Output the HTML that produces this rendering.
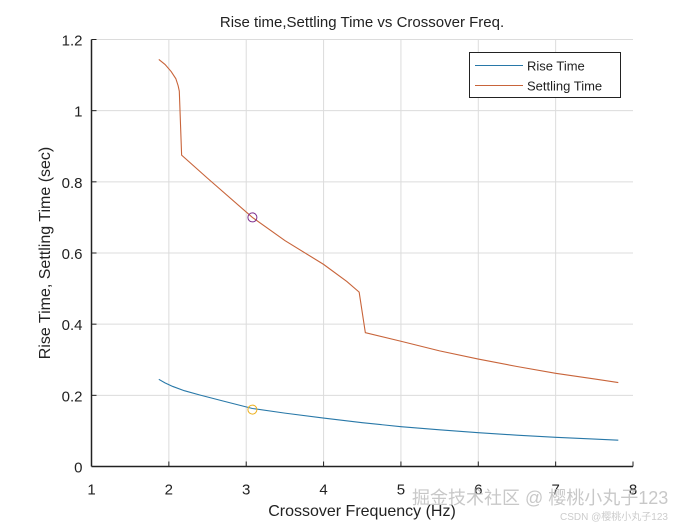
<!DOCTYPE html>
<html><head><meta charset="utf-8"><style>
html,body{margin:0;padding:0;background:#fff;}
svg{display:block;font-family:"Liberation Sans","Noto Sans CJK SC",sans-serif;}
</style></head><body>
<svg id="chart" width="700" height="525" viewBox="0 0 700 525">
<rect x="0" y="0" width="700" height="525" fill="#fff"/>
<g id="grid"></g>
<g id="series"></g>
<g id="axes"></g>
<text x="362" y="27" text-anchor="middle" font-size="15" fill="#222">Rise time,Settling Time vs Crossover Freq.</text>
<text x="362" y="516" text-anchor="middle" font-size="16" fill="#222">Crossover Frequency (Hz)</text>
<text transform="translate(50,253) rotate(-90)" text-anchor="middle" font-size="16" fill="#222">Rise Time, Settling Time (sec)</text>
<g>
<rect x="469.5" y="52.5" width="151" height="45" fill="#fff" stroke="#222" stroke-width="1"/>
<line x1="475" y1="65.5" x2="523" y2="65.5" stroke="#2878a8" stroke-width="1"/>
<text x="527" y="70.5" font-size="13" fill="#222">Rise Time</text>
<line x1="475" y1="85.5" x2="523" y2="85.5" stroke="#c8643a" stroke-width="1"/>
<text x="527" y="90.5" font-size="13" fill="#222">Settling Time</text>
</g>
<text x="412" y="504" font-size="18" fill="#bbb" opacity="0.8">掘金技术社区 @ 樱桃小丸子123</text>
<text x="560" y="520" font-size="10" fill="#ccc">CSDN @樱桃小丸子123</text>
</svg>
<script>
const xTicks=[1,2,3,4,5,6,7,8];
const yTicks=[0,0.2,0.4,0.6,0.8,1,1.2];
const yTickLabels=["0","0.2","0.4","0.6","0.8","1","1.2"];
const settlingX=[1.87,1.95,2.03,2.09,2.12,2.135,2.165,2.5,3.08,3.5,4.0,4.3,4.46,4.54,5,5.5,6,6.5,7,7.5,7.81];
const settlingY=[1.144,1.13,1.11,1.09,1.07,1.055,0.875,0.81,0.70,0.635,0.568,0.52,0.49,0.376,0.352,0.325,0.302,0.281,0.262,0.246,0.236];
const riseX=[1.87,1.95,2.05,2.2,2.4,2.7,3.08,3.5,4,4.5,5,5.5,6,6.5,7,7.5,7.81];
const riseY=[0.245,0.235,0.225,0.213,0.201,0.184,0.163,0.150,0.136,0.123,0.112,0.103,0.095,0.088,0.082,0.077,0.074];
const markerX=[3.08,3.08];
const markerY=[0.70,0.16];

const L=91.5,R=633,T=39.5,B=466.5;
const xs=v=>L+(v-1)/7*(R-L);
const ys=v=>B-v/1.2*(B-T);
const NS="http://www.w3.org/2000/svg";
function mk(tag,attrs,parent){const e=document.createElementNS(NS,tag);for(const k in attrs)e.setAttribute(k,attrs[k]);parent.appendChild(e);return e;}
const grid=document.getElementById('grid'),axes=document.getElementById('axes'),ser=document.getElementById('series');
xTicks.forEach((t,i)=>{
 const x=xs(t);
 if(i>0&&i<xTicks.length-1){const g=mk('line',{x1:x,y1:T,x2:x,y2:B,stroke:'#dcdcdc','stroke-width':1},grid);
 
 }
 const tk=mk('line',{x1:x,y1:B,x2:x,y2:B-5,stroke:'#222','stroke-width':1},axes);
 
 
 const lb=mk('text',{x:x,y:B+28,'text-anchor':'middle','font-size':15,fill:'#222'},axes);
 lb.textContent=String(t);
 
 
});
yTicks.forEach((t,i)=>{
 const y=ys(t);
 if(i>0){const g=mk('line',{x1:L,y1:y,x2:R,y2:y,stroke:'#dcdcdc','stroke-width':1},grid);
 
 }
 const tk=mk('line',{x1:L,y1:y,x2:L+5,y2:y,stroke:'#222','stroke-width':1},axes);
 
 
 const lb=mk('text',{x:L-9,y:y+6,'text-anchor':'end','font-size':15,fill:'#222'},axes);
 lb.textContent=yTickLabels[i];
 
 
});
const xa=mk('line',{x1:L,y1:B,x2:R,y2:B,stroke:'#222','stroke-width':1.5},axes);


const ya=mk('line',{x1:L,y1:T,x2:L,y2:B,stroke:'#222','stroke-width':1.5},axes);


const p1=mk('polyline',{points:riseX.map((v,i)=>xs(v)+','+ys(riseY[i])).join(' '),fill:'none',stroke:'#2878a8','stroke-width':1.1},ser);


const p2=mk('polyline',{points:settlingX.map((v,i)=>xs(v)+','+ys(settlingY[i])).join(' '),fill:'none',stroke:'#c8643a','stroke-width':1.1},ser);


const mc=['#7E2F8E','#EDB120'];
markerX.forEach((v,i)=>{
 const c=mk('circle',{cx:xs(v),cy:ys(markerY[i]),r:4.5,fill:'none',stroke:mc[i],'stroke-width':1},ser);
 
 
});
</script>
</body></html>
